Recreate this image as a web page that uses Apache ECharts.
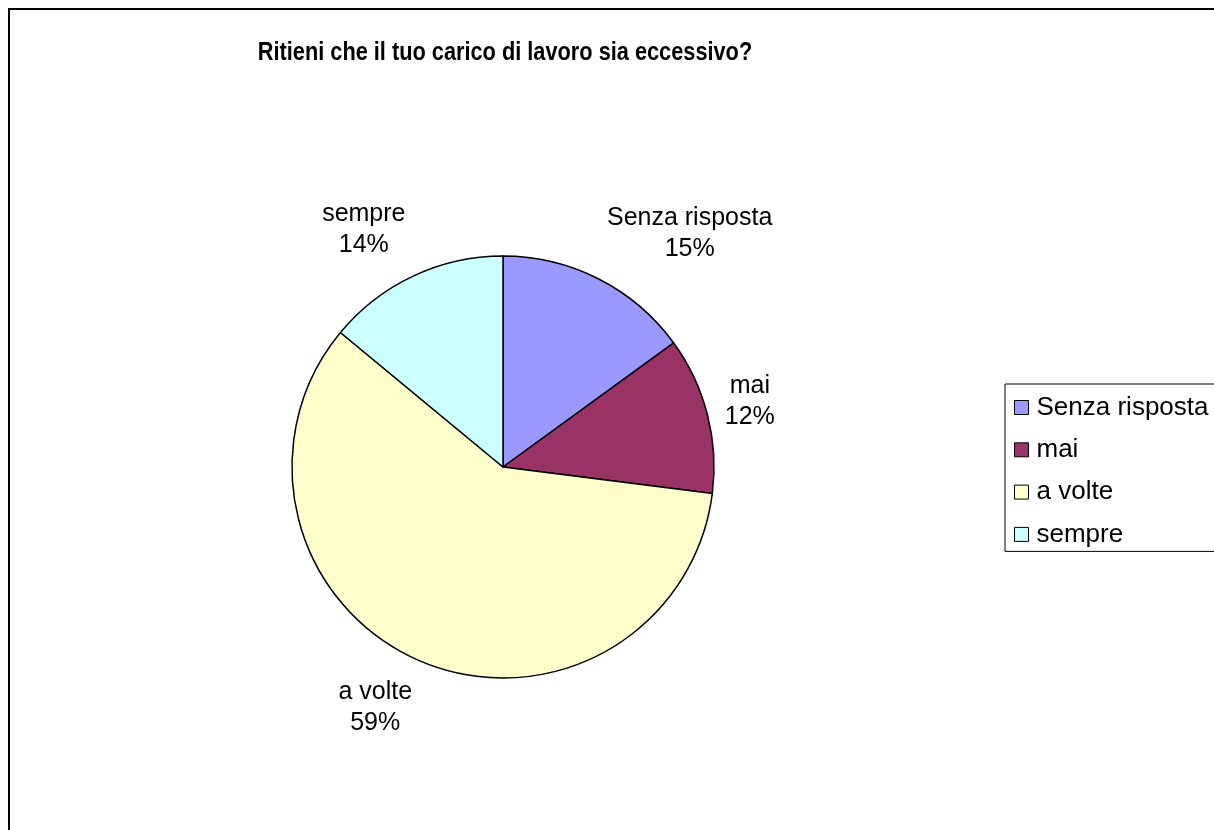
<!DOCTYPE html>
<html>
<head>
<meta charset="utf-8">
<script src="https://cdn.jsdelivr.net/npm/echarts@6/dist/echarts.min.js"></script>
<style>
html,body{margin:0;padding:0;background:#fff;}
#chart{width:1214px;height:830px;}
</style>
</head>
<body>
<div id="chart"></div>
<script>
var titleText = 'Ritieni che il tuo carico di lavoro sia eccessivo?';
var categories = ['Senza risposta', 'mai', 'a volte', 'sempre'];
var values = [15, 12, 59, 14];
var colors = ['#9999FF', '#993366', '#FFFFCC', '#CCFFFF'];

var CX = 503, CY = 467, R = 211;
var total = values.reduce(function (a, b) { return a + b; }, 0);

var chart = echarts.init(document.getElementById('chart'));
var option = {
  backgroundColor: '#ffffff',
  animation: false,
  legend: {
    orient: 'vertical',
    left: 1005,
    top: 384,
    padding: [8.5, 40, 2, 9],
    itemGap: 12.3,
    itemWidth: 14,
    itemHeight: 14,
    icon: 'rect',
    borderColor: '#000',
    borderWidth: 1,
    backgroundColor: '#fff',
    itemStyle: { borderColor: '#000', borderWidth: 1 },
    textStyle: {
      fontFamily: "'Liberation Sans', Arial, sans-serif",
      fontSize: 26,
      lineHeight: 30,
      color: '#000',
      padding: [0, 0, 0, 3]
    },
    data: categories
  },
  graphic: [{
    type: 'text',
    x: 505,
    y: 53,
    scaleX: 0.87,
    silent: true,
    style: {
      text: titleText,
      fontFamily: "'Liberation Sans', Arial, sans-serif",
      fontWeight: 'bold',
      fontSize: 25,
      fill: '#000',
      align: 'center',
      verticalAlign: 'middle'
    }
  }, {
    type: 'rect',
    shape: { x: 9, y: 9, width: 1400, height: 1000 },
    style: { fill: 'none', stroke: '#000', lineWidth: 2 },
    silent: true,
    z: 100
  }],
  series: [{
    type: 'pie',
    center: [CX, CY],
    radius: R,
    startAngle: 90,
    clockwise: true,
    avoidLabelOverlap: false,
    itemStyle: { borderColor: '#000', borderWidth: 1.5 },
    emphasis: { disabled: true },
    label: {
      show: true,
      position: 'outside',
      fontFamily: "'Liberation Sans', Arial, sans-serif",
      fontSize: 25,
      lineHeight: 31,
      color: '#000',
      align: 'center',
      formatter: function (p) { return p.name + '\n' + Math.round(p.percent) + '%'; }
    },
    labelLine: { show: false },
    labelLayout: function (params) {
      var idx = params.dataIndex;
      var cum = 0;
      for (var i = 0; i < idx; i++) cum += values[i];
      var mid = (cum + values[idx] / 2) / total * Math.PI * 2;
      var ux = Math.sin(mid), uy = -Math.cos(mid);
      var px = CX + R * ux, py = CY + R * uy;
      var w = params.labelRect.width;
      return {
        x: px + (ux >= 0 ? 1 : -1) * w / 2 + ux * 18,
        y: py + uy * 51,
        align: 'center',
        verticalAlign: 'middle'
      };
    },
    data: categories.map(function (c, i) {
      return { name: c, value: values[i], itemStyle: { color: colors[i] } };
    })
  }]
};
chart.setOption(option);
</script>
</body>
</html>
